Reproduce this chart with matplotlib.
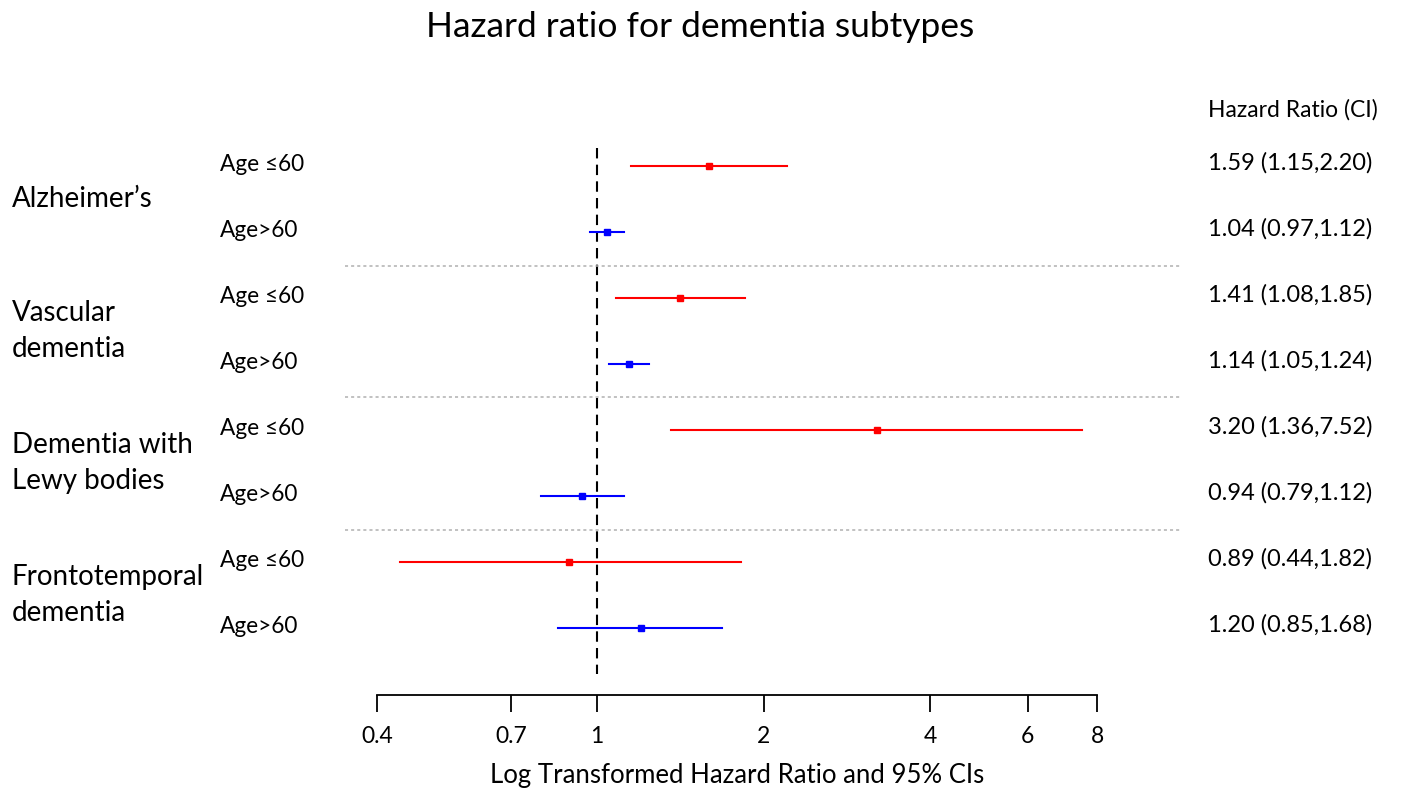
import numpy as np
import matplotlib.pyplot as plt
from matplotlib.transforms import blended_transform_factory

plt.rcParams['font.family'] = ['Lato', 'DejaVu Sans']

groups = ["Alzheimer\u2019s", "Vascular\ndementia", "Dementia with\nLewy bodies", "Frontotemporal\ndementia"]
subgroups = ["Age \u226460", "Age>60"]
hr = [1.59, 1.04, 1.41, 1.14, 3.20, 0.94, 0.89, 1.20]
lo = [1.15, 0.97, 1.08, 1.05, 1.36, 0.79, 0.44, 0.85]
hi = [2.20, 1.12, 1.85, 1.24, 7.52, 1.12, 1.82, 1.68]
ticks = [0.4, 0.7, 1, 2, 4, 6, 8]
tick_labels = ["0.4", "0.7", "1", "2", "4", "6", "8"]

W, H = 1401, 795
fig = plt.figure(figsize=(W / 100, H / 100), dpi=100)

# axes placed in pixel terms
x0, x1 = 377, 1097
ytop, ybot = 140, 695
ax = fig.add_axes([x0 / W, 1 - ybot / H, (x1 - x0) / W, (ybot - ytop) / H])
ax.set_xscale('log')
ax.set_xlim(0.4, 8)
ax.set_ylim(7 + (ybot - 628) / 66, -(166 - ytop) / 66)

for s in ['top', 'right', 'left']:
    ax.spines[s].set_visible(False)
ax.spines['bottom'].set_linewidth(1.3)
ax.set_yticks([])
ax.set_xticks(ticks)
ax.set_xticklabels(tick_labels)
ax.xaxis.set_minor_locator(plt.NullLocator())
ax.tick_params(axis='x', length=12, width=1.3, pad=10, labelsize=16.5)
ax.set_xlabel("Log Transformed Hazard Ratio and 95% CIs", fontsize=18.5, labelpad=12)

rows = np.arange(len(hr))
colors = ['red' if i % 2 == 0 else 'blue' for i in rows]

# reference line
ax.plot([1, 1], [-0.27, 7.7], color='black', linestyle=(0, (5, 3)), linewidth=1.5, clip_on=False)

for i in rows:
    ax.plot([lo[i], hi[i]], [i, i], color=colors[i], linewidth=1.5)
    ax.plot(hr[i], i, marker='s', color=colors[i], markersize=4.5)

trans = blended_transform_factory(fig.transFigure, ax.transData)

# separators
for y in [1.52, 3.5, 5.52]:
    ax.plot([345 / W, 1180 / W], [y, y], transform=trans, color='#b0b0b0',
            linestyle=(0, (2, 2)), linewidth=1.1, clip_on=False)

for g, name in enumerate(groups):
    ax.text(12 / W, 2 * g + 0.5, name, transform=trans, fontsize=20,
            va='center', ha='left', linespacing=1.45)

for i in rows:
    ax.text(220 / W, i - 0.03, subgroups[i % 2], transform=trans, fontsize=16.3, va='center', ha='left')
    ax.text(1208 / W, i - 0.05, f"{hr[i]:.2f} ({lo[i]:.2f},{hi[i]:.2f})", transform=trans,
            fontsize=17, va='center', ha='left')

fig.text(1208 / W, 1 - 110 / H, "Hazard Ratio (CI)", fontsize=16.5, va='center', ha='left')
fig.text(0.5, 1 - 27 / H, "Hazard ratio for dementia subtypes", fontsize=25.5, va='center', ha='center')

fig.savefig('out.png', dpi=100)
